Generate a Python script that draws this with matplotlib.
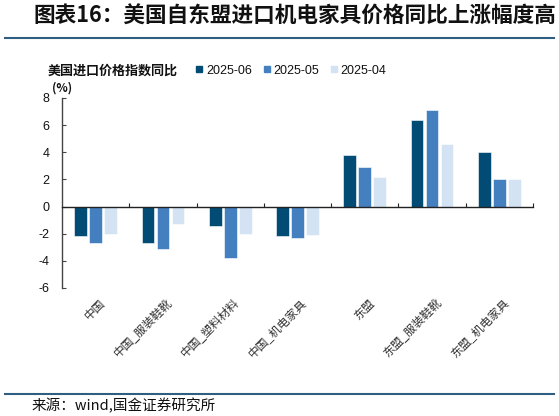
import matplotlib
matplotlib.use("Agg")
import matplotlib.pyplot as plt
import matplotlib.transforms as mtransforms
from matplotlib.lines import Line2D
import numpy as np

plt.rcParams['font.family'] = ['Liberation Sans', 'Noto Sans CJK SC', 'DejaVu Sans']

categories = ['中国', '中国_服装鞋靴', '中国_塑料材料', '中国_机电家具',
              '东盟', '东盟_服装鞋靴', '东盟_机电家具']
series_names = ['2025-06', '2025-05', '2025-04']
v_2025_06 = [-2.2, -2.7, -1.4, -2.2, 3.8, 6.4, 4.0]
v_2025_05 = [-2.7, -3.1, -3.8, -2.3, 2.9, 7.1, 2.0]
v_2025_04 = [-2.0, -1.3, -2.0, -2.1, 2.2, 4.6, 2.0]
yticks = [8, 6, 4, 2, 0, -2, -4, -6]

colors = ['#014B74', '#4480C0', '#D3E3F3']
series = [v_2025_06, v_2025_05, v_2025_04]

fig = plt.figure(figsize=(5.59, 4.16), dpi=100)
ax = fig.add_axes([62/559, 1-288/416, (533-62)/559, (288-98)/416])

x = np.arange(len(categories))
width = 0.19
step = 0.223
for k, (vals, c) in enumerate(zip(series, colors)):
    ax.bar(x + (k-1)*step, vals, width=width, color=c, edgecolor='white',
           linewidth=0.4, zorder=2)

ax.set_xlim(-0.5, len(categories)-0.5)
ax.set_ylim(-6, 8)
ax.set_yticks(yticks)
ax.set_yticklabels([str(t) for t in yticks])

for s in ['top', 'right']:
    ax.spines[s].set_visible(False)
ax.spines['bottom'].set_position(('data', 0))
ax.spines['bottom'].set_color('#222222')
ax.spines['bottom'].set_linewidth(1.0)
ax.spines['bottom'].set_zorder(3)
ax.spines['left'].set_color('#444444')
ax.spines['left'].set_linewidth(1.0)

ax.set_xticks(x + 0.5)
ax.tick_params(axis='x', direction='in', length=3, width=0.8, labelbottom=False,
               color='#222222')
ax.tick_params(axis='y', direction='in', length=3, width=0.8, pad=9,
               labelsize=9, color='#444444', labelcolor='#111111')

trans = mtransforms.blended_transform_factory(ax.transData, ax.transAxes)
off = mtransforms.ScaledTranslation(2/72, -6/72, fig.dpi_scale_trans)
for i, lab in enumerate(categories):
    ax.text(i, 0, lab, transform=trans + off, rotation=45, rotation_mode='anchor',
            ha='right', va='top', fontsize=8.5, color='#333333',
            family=['Noto Sans CJK SC', 'DejaVu Sans'])

# Title and rules
fig.text(33/559, 1-16/416, '图表16：美国自东盟进口机电家具价格同比上涨幅度高',
         fontsize=15.6, fontweight='bold', color='#111111', va='center', ha='left',
         family=['Noto Sans CJK SC', 'DejaVu Sans'])
fig.add_artist(Line2D([5/559, 554/559], [1-37.5/416, 1-37.5/416],
                      color='#2F5F80', linewidth=1.5))
fig.add_artist(Line2D([5/559, 554/559], [1-394/416, 1-394/416],
                      color='#2F5F80', linewidth=1.5))
fig.text(32/559, 1-406/416, '来源：wind,国金证券研究所', fontsize=10.5, color='#111111',
         va='center', ha='left', family=['Noto Sans CJK SC', 'DejaVu Sans'])

# Legend area
fig.text(48/559, 1-70.5/416, '美国进口价格指数同比', fontsize=9.4, fontweight='bold',
         color='#111111', va='center', ha='left',
         family=['Noto Sans CJK SC', 'DejaVu Sans'])
fig.text(52/559, 1-88/416, '(%)', fontsize=8.5, fontweight='bold', color='#111111',
         va='center', ha='left', family=['Noto Sans CJK SC', 'DejaVu Sans'])
handles = [Line2D([], [], linestyle='none', marker='s', markersize=4.8,
                  markerfacecolor=c, markeredgecolor=c) for c in colors]
fig.legend(handles, series_names, loc='center left',
           bbox_to_anchor=(196/559, 1-70.5/416), ncol=3, frameon=False,
           fontsize=9, handlelength=0.55, handletextpad=0.3, columnspacing=0.85,
           borderpad=0, borderaxespad=0, labelcolor='#111111')

fig.savefig('out.png', dpi=100)
